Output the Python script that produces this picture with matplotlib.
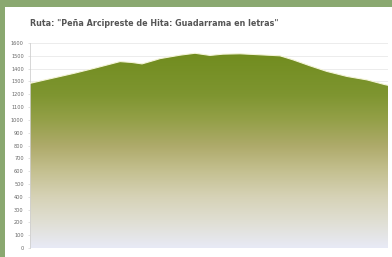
import matplotlib
matplotlib.use("Agg")
import matplotlib.pyplot as plt
import numpy as np
from matplotlib.colors import LinearSegmentedColormap
from matplotlib.patches import Rectangle

# Data: distance (km, approximate) and elevation (m)
distance = [0.0, 0.84, 2.51, 3.63, 5.03, 5.70, 6.26, 6.98, 7.26, 8.38, 9.22, 10.06, 10.78, 11.73, 12.85, 13.97, 14.69, 15.64, 16.59, 17.71, 18.83, 19.83, 20.0]
elevation = [1285, 1312, 1365, 1404, 1455, 1448, 1437, 1466, 1478, 1505, 1520, 1503, 1513, 1516, 1508, 1500, 1469, 1422, 1378, 1339, 1312, 1275, 1270]
yticks = list(range(0, 1700, 100))
title = 'Ruta: "Peña Arcipreste de Hita: Guadarrama en letras"'

fig = plt.figure(figsize=(3.92, 2.57), dpi=100)
fig.patch.set_facecolor("#8aa870")
# white panel
fig.patches.append(Rectangle((5/392, 0), 1, 1 - 7/257, transform=fig.transFigure,
                             facecolor="white", edgecolor="none", zorder=-5))

ax = fig.add_axes([30/392, 1 - 248/257, 358/392, 205/257])
ax.set_zorder(2)
ax.set_facecolor("white")
ax.set_xlim(distance[0], distance[-1])
ax.set_ylim(0, 1600)
ax.set_yticks(yticks)
ax.set_yticklabels([str(t) for t in yticks], fontsize=3.6, color="#666666")
ax.set_xticks([])
ax.tick_params(axis="y", length=1.5, width=0.4, color="#cccccc", pad=3)
for s in ["top", "right", "bottom"]:
    ax.spines[s].set_visible(False)
ax.spines["left"].set_color("#d0d0d0")
ax.spines["left"].set_linewidth(0.6)
ax.grid(axis="y", color="#e4e4e4", linewidth=0.5)
ax.set_axisbelow(True)

poly = ax.fill_between(distance, elevation, 0, color="none", zorder=2)
stops = [(0.0, "#e8eaf6"), (200/1600, "#e0dfd4"), (400/1600, "#d6d2b6"),
         (600/1600, "#c4c090"), (800/1600, "#aeaa6a"), (1000/1600, "#94a048"),
         (1200/1600, "#7e9530"), (1500/1600, "#728d20"), (1.0, "#708b1e")]
cmap = LinearSegmentedColormap.from_list("elev", stops)
grad = np.linspace(0, 1, 512).reshape(-1, 1)
im = ax.imshow(grad, extent=[distance[0], distance[-1], 0, 1600], origin="lower",
               aspect="auto", cmap=cmap, zorder=2)
im.set_clip_path(poly.get_paths()[0], transform=ax.transData)
ax.plot(distance, elevation, color="#f4f4d8", linewidth=0.8, zorder=3)

fig.text(30/392, 1 - 23/257, title, fontsize=5.8, color="#555555",
         fontweight="bold", va="center", ha="left", zorder=3)

fig.savefig("out.png", dpi=100, facecolor=fig.get_facecolor())
